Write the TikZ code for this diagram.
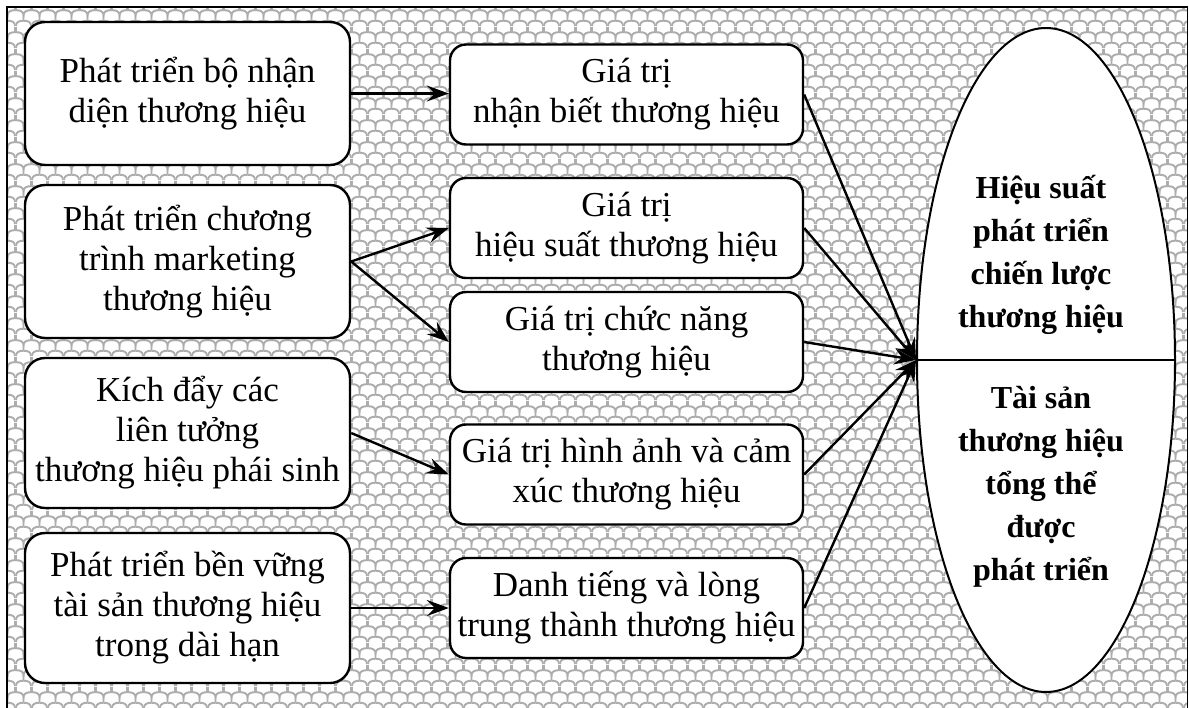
\documentclass[tikz,border=0pt]{standalone}
\usepackage{fontspec}
\setmainfont{Liberation Serif}
\usetikzlibrary{arrows.meta,shapes.geometric,patterns.meta}

% cloud-like scalloped background texture
\tikzdeclarepattern{
  name=scales,
  type=uncolored,
  bounding box={(0pt,0pt) and (8pt,11pt)},
  tile size={(8pt,11pt)},
  code={
    \tikzset{x=1pt,y=1pt,line width=0.45pt}
    % lower row of bumps
    \draw (0,0) .. controls (0,2) and (1.5,2.75) .. (4,2.75)
                .. controls (6.5,2.75) and (8,2) .. (8,0);
    % upper row, shifted by half a tile
    \draw (-4,5.5) .. controls (-4,7.5) and (-2.5,8.25) .. (0,8.25)
                   .. controls (2.5,8.25) and (4,7.5) .. (4,5.5)
                   .. controls (4,7.5) and (5.5,8.25) .. (8,8.25)
                   .. controls (10.5,8.25) and (12,7.5) .. (12,5.5);
    % stems joining each bump to the crest below
    \draw (4,5.5) .. controls (3.4,4.6) and (4.6,3.7) .. (4,2.75);
    \draw (0,11) .. controls (-0.6,10.1) and (0.6,9.2) .. (0,8.25);
    \draw (8,11) .. controls (7.4,10.1) and (8.6,9.2) .. (8,8.25);
  }
}

\begin{document}
\begin{tikzpicture}[x=0.5pt,y=-0.5pt,
  basebox/.style={draw, line width=1.2pt, fill=white, align=center,
    inner sep=0pt, font=\fontsize{17.5}{20}\selectfont},
  lbox/.style={basebox, rounded corners=10pt, minimum width=162.5pt},
  mbox/.style={basebox, rounded corners=8pt, minimum width=176.5pt, minimum height=50pt},
  etext/.style={align=center, inner sep=0pt, font=\bfseries\fontsize{16}{21.5}\selectfont},
  arr/.style={line width=1.2pt, -{Stealth[length=11pt,width=8pt,inset=4pt]}}]
\useasboundingbox (0,0) rectangle (1189,707);
\fill[white] (0,0) rectangle (1189,707);
\path[pattern={scales}, pattern color=black!32] (7,7) rectangle (1187.5,712);
\draw[line width=0.6pt] (7,712) -- (7,7) -- (1187.5,7) -- (1187.5,712);

% left column
\node[lbox, minimum height=71.5pt] (b1) at (187.5,93.5) {Phát triển bộ nhận\\diện thương hiệu};
\node[lbox, minimum height=76.5pt] (b2) at (187.5,261.5) {Phát triển chương\\trình marketing\\thương hiệu};
\node[lbox, minimum height=75pt] (b3) at (187.5,433) {Kích đẩy các\\liên tưởng\\thương hiệu phái sinh};
\node[lbox, minimum height=75pt] (b4) at (187.5,608) {Phát triển bền vững\\tài sản thương hiệu\\trong dài hạn};

% middle column
\node[mbox] (m1) at (626.5,94.5) {Giá trị\\nhận biết thương hiệu};
\node[mbox] (m2) at (626.5,228) {Giá trị\\hiệu suất thương hiệu};
\node[mbox] (m3) at (626.5,342) {Giá trị chức năng\\thương hiệu};
\node[mbox] (m4) at (626.5,474.5) {Giá trị hình ảnh và cảm\\xúc thương hiệu};
\node[mbox] (m5) at (626.5,608) {Danh tiếng và lòng\\trung thành thương hiệu};

% result ellipse
\node[draw, ellipse, line width=1pt, fill=white, minimum width=129pt,
  minimum height=332pt, inner sep=0pt] (ell) at (1046,360) {};
\draw[line width=1pt] (ell.west) -- (ell.east);
\node[etext] (e1) at (1041,255) {Hiệu suất\\phát triển\\chiến lược\\thương hiệu};
\node[etext] (e2) at (1041,487) {Tài sản\\thương hiệu\\tổng thể\\được\\phát triển};

% connectors
\draw[arr] (b1.east) -- (b1.east -| m1.west);
\draw[arr] (b2.east) -- (m2.west);
\draw[arr] (b2.east) -- (m3.west);
\draw[arr] (b3.east) -- (m4.west);
\draw[arr] (b4.east) -- (m5.west);
\foreach \m in {m1,m2,m3,m4,m5}
  \draw[arr] (\m.east) -- (ell.west);
\end{tikzpicture}
\end{document}
